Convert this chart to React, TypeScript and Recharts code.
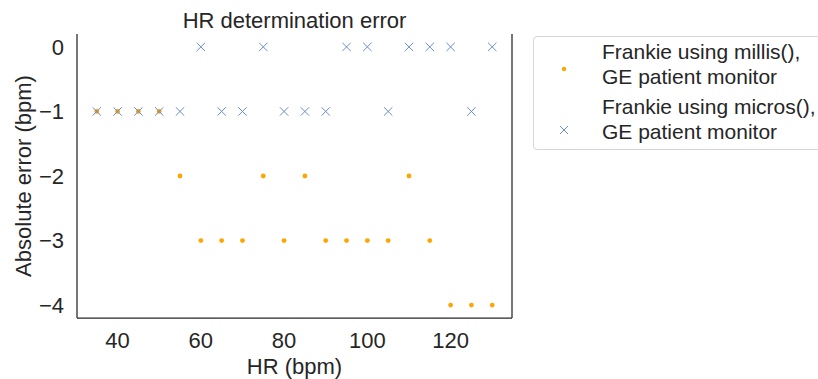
import React from "react";
import {
  ScatterChart,
  Scatter,
  XAxis,
  YAxis,
  ReferenceLine,
} from "recharts";

const hr = [35, 40, 45, 50, 55, 60, 65, 70, 75, 80, 85, 90, 95, 100, 105, 110, 115, 120, 125, 130];
const millisErr = [-1, -1, -1, -1, -2, -3, -3, -3, -2, -3, -2, -3, -3, -3, -3, -2, -3, -4, -4, -4];
const microsErr = [-1, -1, -1, -1, -1, 0, -1, -1, 0, -1, -1, -1, 0, 0, -1, 0, 0, 0, -1, 0];
const xTicks = [40, 60, 80, 100, 120];
const yTicks = [0, -1, -2, -3, -4];

const millisData = hr.map((x, i) => ({ x, y: millisErr[i] }));
const microsData = hr.map((x, i) => ({ x, y: microsErr[i] }));

const FONT = "'Liberation Sans', Arial, sans-serif";
const TEXT = "#262626";
const ORANGE = "#ffa500";
const BLUE = "#6c8ccf";

const Dot = (p: any) => <circle cx={p.cx} cy={p.cy} r={2.4} fill={ORANGE} />;

const Cross = (p: any) => {
  const s = 4.2;
  return (
    <g stroke={BLUE} strokeWidth={1}>
      <line x1={p.cx - s} y1={p.cy - s} x2={p.cx + s} y2={p.cy + s} />
      <line x1={p.cx - s} y1={p.cy + s} x2={p.cx + s} y2={p.cy - s} />
    </g>
  );
};

// legend drawn as a plain box, placed where the reference has it (partly cut off on the right)
function LegendBox() {
  const txt = { fontSize: 21, color: TEXT, lineHeight: "25px", fontFamily: FONT };
  return (
    <div
      style={{
        position: "absolute",
        left: 533,
        top: 36,
        width: 320,
        height: 114,
        border: "1px solid #d6d6d6",
        borderRadius: 4,
        background: "#fff",
        boxSizing: "border-box",
      }}
    >
      <svg width={20} height={20} style={{ position: "absolute", left: 20, top: 22 }}>
        <circle cx={10} cy={10} r={2.2} fill={ORANGE} />
      </svg>
      <svg width={20} height={20} style={{ position: "absolute", left: 20, top: 83 }}>
        <line x1={6} y1={6} x2={14} y2={14} stroke={BLUE} />
        <line x1={6} y1={14} x2={14} y2={6} stroke={BLUE} />
      </svg>
      <div style={{ ...txt, position: "absolute", left: 68, top: 2, whiteSpace: "nowrap" }}>
        Frankie using millis(),
        <br />
        GE patient monitor
      </div>
      <div style={{ ...txt, position: "absolute", left: 68, top: 57, whiteSpace: "nowrap" }}>
        Frankie using micros(),
        <br />
        GE patient monitor
      </div>
    </div>
  );
}

export default function App() {
  const label = { position: "absolute" as const, fontSize: 22, lineHeight: "22px", color: TEXT };
  return (
    <div
      style={{
        position: "absolute",
        left: 0,
        top: 0,
        width: 818,
        height: 379,
        overflow: "hidden",
        background: "#fff",
        fontFamily: FONT,
      }}
    >
      <ScatterChart width={818} height={379} margin={{ top: 34, right: 306, bottom: 0, left: 0 }}>
        <XAxis
          type="number"
          dataKey="x"
          domain={[30.25, 134.75]}
          ticks={xTicks}
          tickLine={false}
          tickSize={12}
          axisLine={{ stroke: TEXT, strokeWidth: 1.25 }}
          tick={{ fontSize: 22, fill: TEXT, fontFamily: FONT }}
          height={61}
          allowDataOverflow
        />
        <YAxis
          type="number"
          dataKey="y"
          domain={[-4.2, 0.2]}
          ticks={yTicks}
          tickLine={false}
          tickSize={11}
          axisLine={{ stroke: TEXT, strokeWidth: 1.25 }}
          tick={{ fontSize: 22, fill: TEXT, fontFamily: FONT }}
          tickFormatter={(v: number) => String(v).replace("-", "\u2212")}
          width={77}
          allowDataOverflow
        />
        <ReferenceLine x={134.75} stroke={TEXT} strokeWidth={1.25} ifOverflow="extendDomain" />
        <Scatter data={millisData} shape={Dot} isAnimationActive={false} />
        <Scatter data={microsData} shape={Cross} isAnimationActive={false} />
      </ScatterChart>
      <LegendBox />
      <div style={{ ...label, left: 77, width: 435, top: 10, textAlign: "center" }}>
        HR determination error
      </div>
      <div style={{ ...label, left: 77, width: 435, top: 356, textAlign: "center" }}>
        HR (bpm)
      </div>
      <div
        style={{
          ...label,
          left: 24,
          top: 176,
          transform: "translate(-50%, -50%) rotate(-90deg)",
          whiteSpace: "nowrap",
        }}
      >
        Absolute error (bpm)
      </div>
    </div>
  );
}
